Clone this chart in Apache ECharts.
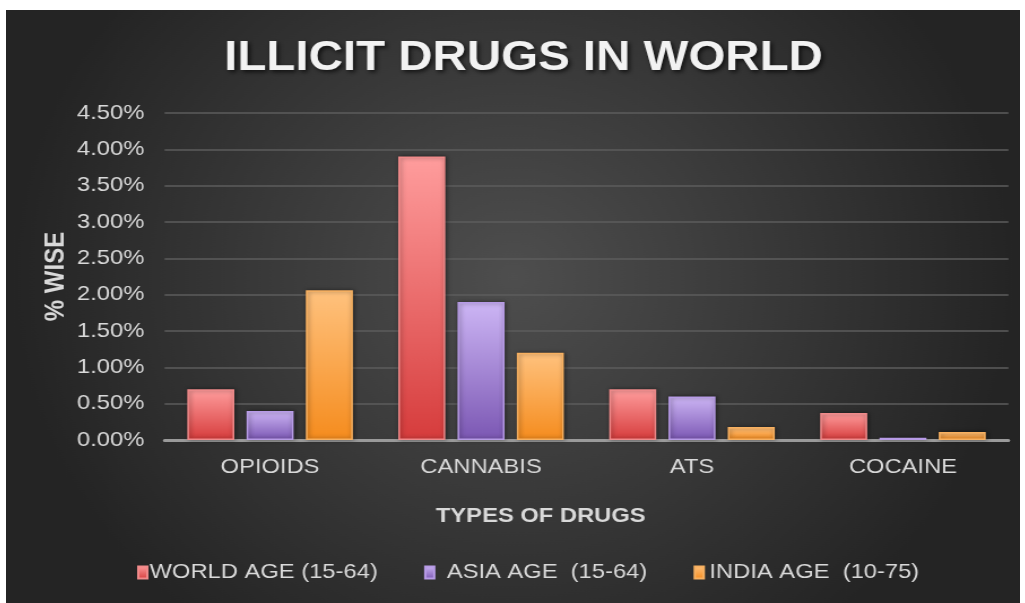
<!DOCTYPE html>
<html>
<head>
<meta charset="utf-8">
<script src="https://cdn.jsdelivr.net/npm/echarts@6/dist/echarts.min.js"></script>
<style>
html,body{margin:0;padding:0;background:#ffffff;width:1025px;height:603px;overflow:hidden;}
#chart{position:absolute;left:6px;top:10px;width:897px;height:593px;transform:scaleX(1.1304);transform-origin:0 0;}
</style>
</head>
<body>
<div id="chart"></div>
<script>
const categories = ['OPIOIDS', 'CANNABIS', 'ATS', 'COCAINE'];
const worldAge = [0.70, 3.90, 0.70, 0.37];
const asiaAge = [0.40, 1.90, 0.60, 0.03];
const indiaAge = [2.06, 1.20, 0.18, 0.11];
const seriesNames = ['WORLD AGE (15-64)', 'ASIA AGE  (15-64)', 'INDIA AGE  (10-75)'];
const yTicks = { min: 0, max: 4.5, interval: 0.5 };

function grad(top, bottom) {
  return new echarts.graphic.LinearGradient(0, 0, 0, 1, [
    { offset: 0, color: top },
    { offset: 1, color: bottom }
  ]);
}
const styles = [
  { fill: grad('#ff9d9d', '#d63c3c'), border: '#f08a8a', pad: -3 },
  { fill: grad('#cdb6f5', '#7b57b3'), border: '#b79be6', pad: 6 },
  { fill: grad('#ffc27e', '#f58c1e'), border: '#f7b060', pad: 0 }
];
const values = [worldAge, asiaAge, indiaAge];
const FONT = 'Liberation Sans, Arial, sans-serif';

const chart = echarts.init(document.getElementById('chart'));
chart.setOption({
  backgroundColor: new echarts.graphic.RadialGradient(0.5, 0.45, 0.75, [
    { offset: 0, color: '#4e4e4e' },
    { offset: 1, color: '#242424' }
  ]),
  animation: false,
  title: {
    text: 'ILLICIT DRUGS IN WORLD',
    left: 188,
    top: 22,
    textStyle: {
      color: '#f2f2f2',
      fontFamily: FONT,
      fontWeight: 'bold',
      fontSize: 42,
      textShadowColor: 'rgba(0,0,0,0.7)',
      textShadowBlur: 4,
      textShadowOffsetX: 2,
      textShadowOffsetY: 2
    }
  },
  legend: {
    bottom: 15,
    left: 111,
    itemWidth: 8,
    itemHeight: 12,
    itemGap: 41,
    icon: 'rect',
    textStyle: {
      color: '#d9d9d9',
      fontFamily: FONT,
      fontSize: 21
    },
    data: seriesNames.map((n, i) => ({
      name: n,
      textStyle: { padding: [0, 0, 0, styles[i].pad] }
    }))
  },
  grid: { left: 140.3, right: 10.2, top: 103, bottom: 163 },
  xAxis: {
    type: 'category',
    data: categories,
    name: 'TYPES OF DRUGS',
    nameLocation: 'middle',
    nameGap: 66,
    nameTextStyle: {
      color: '#d9d9d9',
      fontFamily: FONT,
      fontWeight: 'bold',
      fontSize: 21,
      padding: [0, 81, 0, 0]
    },
    axisLine: { lineStyle: { color: '#9a9a9a', width: 3 } },
    axisTick: { show: false },
    axisLabel: {
      color: '#d9d9d9',
      fontFamily: FONT,
      fontSize: 21,
      margin: 17
    }
  },
  yAxis: {
    type: 'value',
    min: yTicks.min,
    max: yTicks.max,
    interval: yTicks.interval,
    name: '% WISE',
    nameLocation: 'middle',
    nameGap: 84,
    nameMoveOverlap: false,
    nameRotate: 90,
    nameTextStyle: {
      color: '#d9d9d9',
      fontFamily: FONT,
      fontWeight: 'bold',
      fontSize: 24
    },
    axisLine: { show: false },
    axisTick: { show: false },
    splitLine: { lineStyle: { color: '#5c5c5c', width: 1.5 } },
    axisLabel: {
      color: '#d9d9d9',
      fontFamily: FONT,
      fontSize: 21,
      margin: 18,
      formatter: v => v.toFixed(2) + '%'
    }
  },
  series: values.map((vals, i) => ({
    name: seriesNames[i],
    type: 'bar',
    data: vals,
    barWidth: '22.3%',
    barGap: '26%',
    itemStyle: {
      color: styles[i].fill,
      borderColor: styles[i].border,
      borderWidth: 1.5,
      shadowColor: 'rgba(0,0,0,0.45)',
      shadowBlur: 4,
      shadowOffsetX: 1,
      shadowOffsetY: 0
    }
  }))
});
</script>
</body>
</html>
